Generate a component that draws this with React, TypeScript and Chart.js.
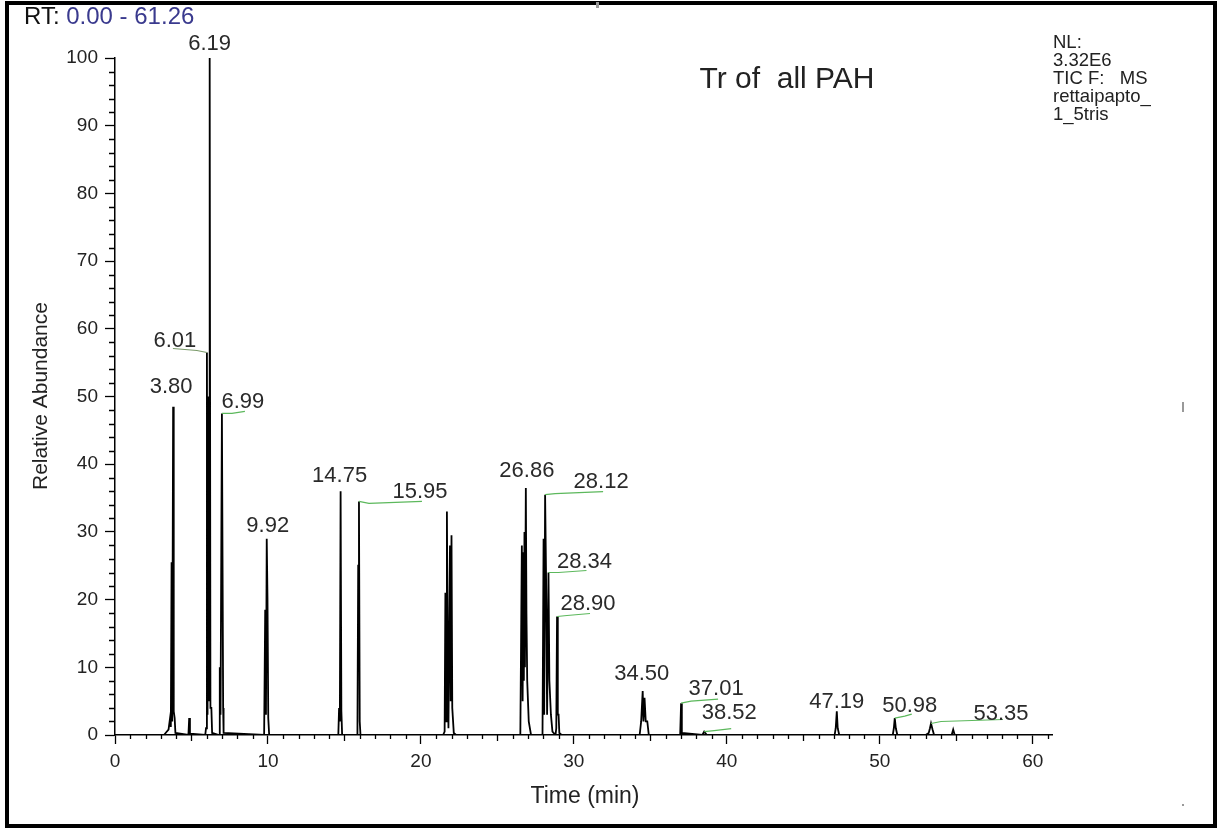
import { useEffect, useRef } from 'react';
import { Chart, registerables } from 'chart.js';

Chart.register(...registerables);

// ---- data ----
const tracePoints: [number, number][] = [
  [0, 0], [3.2, 0], [3.35, 0.4], [3.5, 0.8], [3.6, 2.5], [3.65, 1.2], [3.7, 25.5], [3.74, 2], [3.8, 48.5], [3.84, 3.5], [3.9, 2.5], [3.95, 0.3],
  [4.8, 0], [4.85, 2.5], [4.9, 0.2],
  [5.9, 0], [5.95, 1], [6.01, 56.5], [6.05, 3], [6.09, 50], [6.13, 5], [6.16, 49], [6.19, 100], [6.24, 4], [6.3, 4], [6.35, 0.3],
  [6.8, 0], [6.85, 10], [6.9, 3], [6.99, 47.5], [7.03, 26], [7.07, 4], [7.1, 0.3],
  [9.75, 0], [9.82, 18.5], [9.87, 3], [9.92, 29], [9.97, 20], [10.02, 2.5], [10.08, 0],
  [14.6, 0], [14.65, 4], [14.7, 2], [14.75, 36], [14.8, 3.5], [14.85, 0],
  [15.85, 0], [15.9, 25], [15.95, 34.5], [16.0, 2], [16.05, 0],
  [21.45, 0], [21.55, 0.5], [21.6, 21], [21.65, 2], [21.7, 33], [21.75, 12.5], [21.8, 1], [21.9, 28], [21.95, 5], [22.0, 29.5], [22.05, 4], [22.15, 0.3], [22.3, 0],
  [26.5, 0], [26.6, 28], [26.65, 5], [26.7, 27], [26.73, 8], [26.77, 30], [26.8, 10], [26.86, 36.5], [26.9, 18], [26.95, 8], [27.05, 2], [27.2, 0],
  [27.95, 0], [28.02, 29], [28.06, 3], [28.12, 35.5], [28.18, 24], [28.25, 3], [28.34, 24], [28.4, 8], [28.5, 3], [28.6, 0.5], [28.8, 0],
  [28.85, 1], [28.9, 17.5], [28.95, 3], [29.0, 3], [29.05, 0.3], [29.2, 0],
  [34.3, 0], [34.4, 2], [34.5, 6.5], [34.55, 2], [34.62, 5.5], [34.7, 2], [34.8, 2], [34.9, 0],
  [36.95, 0], [37.01, 4.7], [37.06, 0.3],
  [38.4, 0], [38.52, 0.5], [38.7, 0],
  [47.05, 0], [47.12, 1], [47.19, 3.5], [47.25, 1], [47.35, 0],
  [50.85, 0], [50.92, 1], [50.98, 2.5], [51.05, 1], [51.15, 0],
  [53.0, 0], [53.2, 0.3], [53.28, 1], [53.35, 1.7], [53.45, 0.8], [53.55, 0],
  [54.7, 0], [54.8, 0.8], [54.9, 0],
  [61.26, 0],
];

const peakLabelTimes = [6.19, 6.01, 3.80, 6.99, 9.92, 14.75, 15.95, 26.86, 28.12, 28.34, 28.90, 34.50, 37.01, 38.52, 47.19, 50.98, 53.35];
const peakLabelHeights = [100, 56.5, 48.5, 47.5, 29, 36, 34.5, 36.5, 35.5, 24, 17.5, 6.5, 4.7, 0.5, 3.5, 2.5, 1.7];

const xRange = [0, 61.26];
const yRange = [0, 100];
const titleText = 'Tr of  all PAH';
const infoLines = ['NL:', '3.32E6', 'TIC F:   MS', 'rettaipapto_', '1_5tris'];

// ---- label layout (pixel offsets from peak top, leader flag, leader offset below text) ----
const labelLayout: [number, number, boolean, number][] = [
  [0, -14, false, 0], [-32, -12, true, 8], [-2, -20, false, 0], [21, -11, true, 9], [1, -13, false, 0],
  [-1, -15, false, 0], [61, -9, true, 9], [1, -17, false, 0], [56, -13, true, 10], [36, -11, true, 9],
  [31, -13, true, 10], [-1, -17, false, 0], [35, -14, true, 10], [25, -19, true, 16], [0, -9, false, 0],
  [15, -12, true, 8], [70, -10, true, 6],
];

const FONT = 'Arial, "Liberation Sans", sans-serif';

const decorPlugin = {
  id: 'decor',
  afterDraw(chart: any) {
    const ctx = chart.ctx as CanvasRenderingContext2D;
    const xs = chart.scales.x;
    const ys = chart.scales.y;
    const area = chart.chartArea;
    ctx.save();

    // outer frame
    ctx.strokeStyle = '#000';
    ctx.lineWidth = 4;
    ctx.strokeRect(7, 3, 1208, 823);

    // minor ticks
    ctx.strokeStyle = '#000';
    ctx.lineWidth = 1.3;
    ctx.beginPath();
    for (let v = 2; v < 100; v += 2) {
      if (v % 10 === 0) continue;
      const y = Math.round(ys.getPixelForValue(v)) + 0.5;
      ctx.moveTo(area.left - 6, y);
      ctx.lineTo(area.left, y);
    }
    for (let v = 1; v <= 61; v += 1) {
      if (v % 10 === 0) continue;
      const x = Math.round(xs.getPixelForValue(v)) + 0.5;
      ctx.moveTo(x, area.bottom);
      ctx.lineTo(x, area.bottom + (v % 5 === 0 ? 6 : 4));
    }
    ctx.stroke();

    // RT text
    ctx.textBaseline = 'middle';
    ctx.textAlign = 'left';
    ctx.font = `24px ${FONT}`;
    ctx.fillStyle = '#111';
    ctx.fillText('RT:', 24, 17);
    const w = ctx.measureText('RT: ').width;
    ctx.fillStyle = '#3a3a8e';
    ctx.fillText('0.00 - 61.26', 24 + w, 17);

    // title
    ctx.fillStyle = '#222';
    ctx.font = `30px ${FONT}`;
    ctx.textAlign = 'center';
    ctx.fillText(titleText, 787, 80);

    // info block
    ctx.font = `18.5px ${FONT}`;
    ctx.textAlign = 'left';
    infoLines.forEach((t, i) => ctx.fillText(t, 1053, 43 + i * 18));

    // axis titles
    ctx.font = `23px ${FONT}`;
    ctx.textAlign = 'center';
    ctx.fillText('Time (min)', 585, 797);
    ctx.font = `21px ${FONT}`;
    ctx.save();
    ctx.translate(41, 396);
    ctx.rotate(-Math.PI / 2);
    ctx.fillText('Relative Abundance', 0, 0);
    ctx.restore();

    // peak labels
    ctx.font = `22px ${FONT}`;
    peakLabelTimes.forEach((t, i) => {
      const [dx, dy, leader, lo] = labelLayout[i];
      const px = xs.getPixelForValue(t);
      const py = ys.getPixelForValue(peakLabelHeights[i]);
      const tx = px + dx;
      const ty = py + dy;
      if (leader) {
        const sgn = dx >= 0 ? 1 : -1;
        ctx.strokeStyle = i === 1 ? '#7a9a6a' : '#5cb85c';
        ctx.lineWidth = 1.2;
        ctx.beginPath();
        ctx.moveTo(px, py);
        ctx.lineTo(px + sgn * 10, ty + lo + 2);
        ctx.lineTo(tx + sgn * 2, ty + lo);
        ctx.stroke();
      }
      ctx.fillStyle = '#2a2a2a';
      ctx.textAlign = 'center';
      ctx.fillText(t.toFixed(2), tx, ty);
    });

    // small stray marks
    ctx.fillStyle = '#999';
    ctx.fillRect(1182, 402, 2, 10);
    ctx.fillRect(1182, 804, 2, 2);
    ctx.fillRect(596, 2, 3, 6);
    ctx.restore();
  },
};

export default function App() {
  const ref = useRef<HTMLCanvasElement>(null);
  useEffect(() => {
    document.body.style.margin = '0';
    const chart = new Chart(ref.current!, {
      type: 'line',
      data: {
        datasets: [
          {
            data: tracePoints.map(([x, y]) => ({ x, y })),
            borderColor: '#000',
            borderWidth: 1.8,
            pointRadius: 0,
            tension: 0,
            fill: false,
          },
        ],
      },
      options: {
        animation: false,
        responsive: false,
        layout: { padding: { left: 0, top: 58, right: 166, bottom: 0 } },
        plugins: { legend: { display: false }, tooltip: { enabled: false }, title: { display: false } },
        scales: {
          x: {
            type: 'linear',
            min: xRange[0],
            max: xRange[1],
            border: { display: true, color: '#000', width: 1.5 },
            grid: { display: true, drawOnChartArea: false, drawTicks: true, tickLength: 9, tickColor: '#000', tickWidth: 1.3 },
            ticks: { stepSize: 10, includeBounds: false, color: '#222', padding: 6, maxRotation: 0, font: { family: FONT, size: 19 } },
            afterFit: (s: any) => { s.height = 94; },
          },
          y: {
            min: yRange[0],
            max: yRange[1],
            border: { display: true, color: '#000', width: 1.5 },
            grid: { display: true, drawOnChartArea: false, drawTicks: true, tickLength: 10, tickColor: '#000', tickWidth: 1.3 },
            ticks: { stepSize: 10, color: '#222', padding: 7, font: { family: FONT, size: 19 } },
            afterFit: (s: any) => { s.width = 115; },
          },
        },
      },
      plugins: [decorPlugin],
    });
    return () => chart.destroy();
  }, []);
  return (
    <div style={{ position: 'fixed', left: 0, top: 0, width: 1218, height: 829, background: '#fff' }}>
      <canvas ref={ref} width={1218} height={829} />
    </div>
  );
}
